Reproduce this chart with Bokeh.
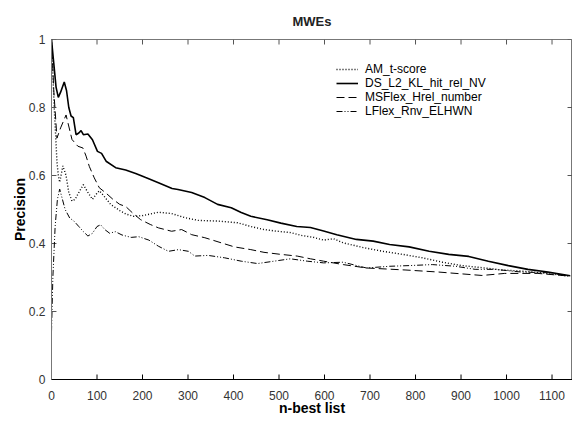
from bokeh.plotting import figure
from bokeh.models import FixedTicker, CustomJSTickFormatter, Range1d, Legend, LegendItem
from bokeh.embed import file_html
from bokeh.resources import INLINE

# ---------------- data ----------------
am_x = [0, 3, 6, 9, 12, 15, 18, 25, 32, 38, 45, 52, 60, 70, 80, 90, 100, 105, 115, 130,
        150, 163, 180, 200, 235, 264, 293, 322, 365, 409, 438, 467, 496, 526, 548, 576,
        598, 620, 641, 685, 728, 772, 815, 859, 902, 946, 989, 1033, 1076, 1140]
am_y = [1.0, 0.9, 0.8, 0.72, 0.64, 0.6, 0.58, 0.628, 0.6, 0.55, 0.525, 0.53, 0.55, 0.573,
        0.55, 0.53, 0.548, 0.555, 0.54, 0.515, 0.497, 0.487, 0.48, 0.482, 0.492, 0.488,
        0.476, 0.468, 0.466, 0.461, 0.45, 0.441, 0.436, 0.432, 0.424, 0.418, 0.41, 0.414,
        0.402, 0.388, 0.377, 0.368, 0.358, 0.345, 0.335, 0.329, 0.322, 0.319, 0.314, 0.304]

ds_x = [0, 5, 10, 15, 20, 28, 33, 38, 43, 48, 54, 60, 65, 70, 80, 90, 101, 110, 120, 141,
        163, 185, 207, 235, 265, 278, 308, 337, 365, 395, 417, 438, 474, 504, 539, 569,
        598, 627, 670, 707, 743, 786, 830, 873, 917, 960, 1004, 1047, 1091, 1140]
ds_y = [1.0, 0.93, 0.86, 0.83, 0.845, 0.875, 0.85, 0.8, 0.775, 0.77, 0.72, 0.725, 0.732,
        0.72, 0.722, 0.705, 0.671, 0.665, 0.642, 0.623, 0.616, 0.606, 0.594, 0.579, 0.562,
        0.559, 0.55, 0.535, 0.515, 0.505, 0.491, 0.48, 0.47, 0.46, 0.45, 0.447, 0.437,
        0.426, 0.412, 0.407, 0.397, 0.39, 0.377, 0.368, 0.362, 0.348, 0.335, 0.324, 0.316,
        0.305]

ms_x = [0, 5, 12, 20, 32, 45, 58, 69, 76, 83, 94, 105, 120, 135, 150, 163, 178, 196, 217,
        235, 264, 286, 308, 337, 373, 402, 438, 467, 504, 540, 569, 598, 641, 692, 779,
        851, 946, 996, 1069, 1140]
ms_y = [1.0, 0.85, 0.71, 0.74, 0.778, 0.706, 0.686, 0.681, 0.657, 0.627, 0.593, 0.564,
        0.548, 0.53, 0.515, 0.509, 0.49, 0.47, 0.456, 0.446, 0.436, 0.441, 0.426, 0.417,
        0.402, 0.39, 0.382, 0.374, 0.368, 0.363, 0.355, 0.348, 0.338, 0.328, 0.322, 0.316,
        0.306, 0.312, 0.312, 0.304]

lf_x = [0, 3, 8, 13, 18, 24, 30, 40, 50, 60, 70, 80, 90, 100, 108, 118, 128, 140, 155,
        175, 192, 214, 235, 257, 279, 301, 315, 344, 380, 417, 453, 489, 525, 562, 598,
        641, 692, 743, 786, 837, 888, 931, 974, 1033, 1091, 1140]
lf_y = [0.14, 0.3, 0.45, 0.53, 0.56, 0.53, 0.5, 0.475, 0.465, 0.45, 0.435, 0.422, 0.43,
        0.45, 0.455, 0.44, 0.43, 0.435, 0.425, 0.418, 0.42, 0.41, 0.392, 0.377, 0.382,
        0.377, 0.363, 0.365, 0.358, 0.348, 0.341, 0.348, 0.355, 0.348, 0.343, 0.345,
        0.328, 0.333, 0.335, 0.338, 0.333, 0.324, 0.324, 0.316, 0.314, 0.304]

series_names = ["AM_t-score", "DS_L2_KL_hit_rel_NV", "MSFlex_Hrel_number", "LFlex_Rnv_ELHWN"]
x_ticks = [0, 100, 200, 300, 400, 500, 600, 700, 800, 900, 1000, 1100]
y_ticks = [0, 0.2, 0.4, 0.6, 0.8, 1]

X_MAX = 1145
FONT = "Liberation Sans"
TICK_COLOR = "#333333"

p = figure(width=572, height=418, output_backend="svg", toolbar_location=None,
           x_range=Range1d(0, X_MAX), y_range=Range1d(0, 1),
           min_border_left=51, min_border_right=0, min_border_top=32, min_border_bottom=30,
           title="MWEs")
p.title.align = "center"
p.title.text_font = FONT
p.title.text_font_size = "13px"
p.title.text_font_style = "bold"
p.title.text_color = "#222222"
p.title.standoff = 22
p.grid.visible = False
p.outline_line_color = "#777777"
p.background_fill_color = "white"
p.border_fill_color = "white"

fmt = CustomJSTickFormatter(code="return String(+tick.toFixed(2));")

for ax in (p.xaxis[0], p.yaxis[0]):
    ax.major_tick_in = 0
    ax.major_tick_out = 0
    ax.minor_tick_in = 0
    ax.minor_tick_out = 0
    ax.major_label_text_font = FONT
    ax.major_label_text_font_size = "12px"
    ax.major_label_text_color = TICK_COLOR
    ax.axis_label_text_font = FONT
    ax.axis_label_text_font_size = "14px"
    ax.axis_label_text_font_style = "bold"
    ax.axis_label_text_color = "black"
    ax.formatter = fmt

p.xaxis[0].ticker = FixedTicker(ticks=x_ticks)
p.yaxis[0].ticker = FixedTicker(ticks=y_ticks)
p.xaxis[0].axis_label = "n-best list"
p.yaxis[0].axis_label = "Precision"
p.xaxis[0].axis_line_color = "black"
p.yaxis[0].axis_line_color = "#777777"
p.xaxis[0].major_label_standoff = 11
p.yaxis[0].major_label_standoff = 6
p.xaxis[0].axis_label_standoff = -3
p.yaxis[0].axis_label_standoff = -2

# inward tick marks on all four sides (5 px long), placed at the tick values
tick_dy = 5 / 340
tick_dx = 5 * X_MAX / 525
nx = len(x_ticks)
ny = len(y_ticks)
p.segment(x0=x_ticks, y0=[0] * nx, x1=x_ticks, y1=[tick_dy] * nx, line_color="black", line_width=1)
p.segment(x0=x_ticks, y0=[1] * nx, x1=x_ticks, y1=[1 - tick_dy] * nx, line_color="#555555", line_width=1)
p.segment(x0=[0] * ny, y0=y_ticks, x1=[tick_dx] * ny, y1=y_ticks, line_color="#555555", line_width=1)
p.segment(x0=[X_MAX] * ny, y0=y_ticks, x1=[X_MAX - tick_dx] * ny, y1=y_ticks, line_color="#555555", line_width=1)

r_am = p.line(am_x, am_y, line_color="black", line_width=1.4, line_dash="1 2")
r_ds = p.line(ds_x, ds_y, line_color="black", line_width=1.6)
r_ms = p.line(ms_x, ms_y, line_color="black", line_width=1, line_dash="8 4")
r_lf = p.line(lf_x, lf_y, line_color="black", line_width=1, line_dash="6 2 1 2 1 2")

legend = Legend(items=[LegendItem(label=n, renderers=[r]) for n, r in
                       zip(series_names, [r_am, r_ds, r_ms, r_lf])],
                location=(285, 261), orientation="vertical",
                label_text_font=FONT, label_text_font_size="12px",
                label_text_color="black", label_height=14, glyph_height=14,
                glyph_width=22, label_standoff=7, spacing=0, padding=0, margin=0,
                border_line_alpha=0, background_fill_alpha=0)
p.add_layout(legend, "center")

open("out.html", "w").write(file_html(p, INLINE))
